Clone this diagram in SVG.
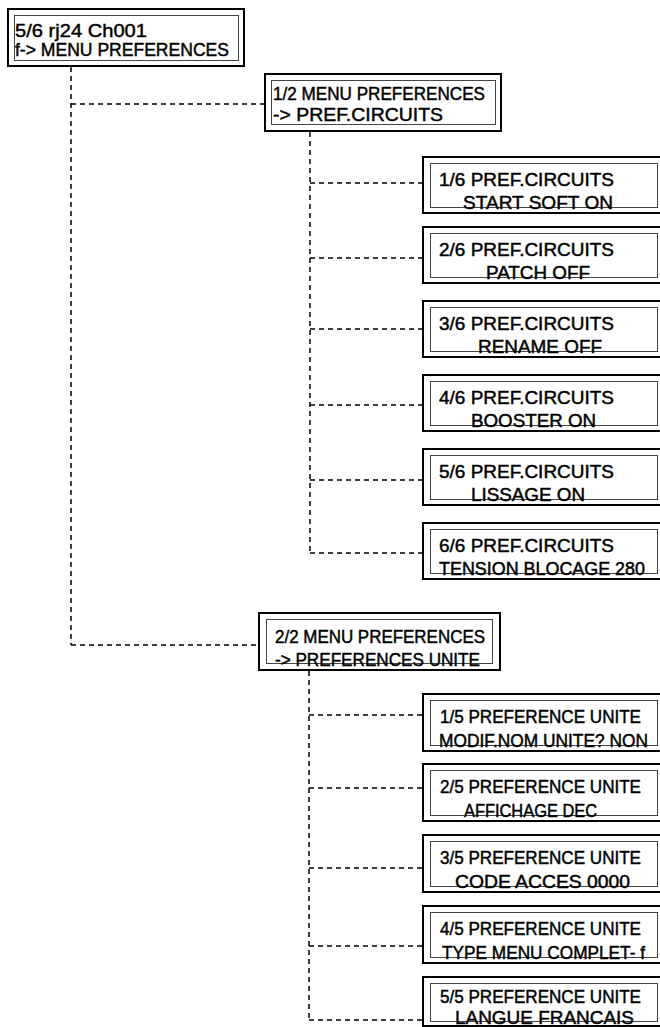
<svg xmlns="http://www.w3.org/2000/svg" width="660" height="1027" viewBox="0 0 660 1027">
<style>
.outer{fill:#fff;stroke:#000;stroke-width:2}
.inner{fill:none;stroke:#444;stroke-width:1}
.t{font-family:"Liberation Sans",Arial,sans-serif;font-size:18px;fill:#000;stroke:#000;stroke-width:0.45}
.big{font-size:19px}
.con{fill:none;stroke:#000;stroke-width:1.5;stroke-dasharray:5 4}
</style>
<rect width="660" height="1027" fill="#fff"/>
<g id="connectors">
<path class="con" d="M71,67 V645 M71,104 H265 M71,645 H259"/>
<path class="con" d="M310,132 V553 M310,183 H423 M310,258 H423 M310,329 H423 M310,405 H423 M310,480 H423 M310,553 H423"/>
<path class="con" d="M309,671 V1020 M309,715 H423 M309,788 H423 M309,868 H423 M309,946 H423 M309,1020 H423"/>
</g>
<g id="n_root">
<rect class="outer" x="8" y="9" width="236" height="57"/>
<rect class="inner" x="14.5" y="15.5" width="224" height="45"/>
<text class="t big" x="15" y="37" textLength="132" lengthAdjust="spacingAndGlyphs">5/6 rj24 Ch001</text>
<text class="t big" x="15" y="56" textLength="214" lengthAdjust="spacingAndGlyphs">f-&gt; MENU PREFERENCES</text>
</g>
<g id="n_menu1">
<rect class="outer" x="265" y="74" width="236" height="57"/>
<rect class="inner" x="271.5" y="80.5" width="224" height="44"/>
<text class="t big" x="273" y="100" textLength="212" lengthAdjust="spacingAndGlyphs">1/2 MENU PREFERENCES</text>
<text class="t big" x="273" y="121" textLength="170" lengthAdjust="spacingAndGlyphs">-&gt; PREF.CIRCUITS</text>
</g>
<g id="n_pc1">
<rect class="outer" x="423" y="157" width="240" height="56"/>
<rect class="inner" x="430.5" y="163.5" width="227" height="44"/>
<text class="t" x="439" y="186" textLength="175" lengthAdjust="spacingAndGlyphs">1/6 PREF.CIRCUITS</text>
<text class="t" x="463" y="209" textLength="150" lengthAdjust="spacingAndGlyphs">START SOFT ON</text>
</g>
<g id="n_pc2">
<rect class="outer" x="423" y="227" width="240" height="56"/>
<rect class="inner" x="430.5" y="233.5" width="227" height="44"/>
<text class="t" x="439" y="256" textLength="175" lengthAdjust="spacingAndGlyphs">2/6 PREF.CIRCUITS</text>
<text class="t" x="486" y="279" textLength="104" lengthAdjust="spacingAndGlyphs">PATCH OFF</text>
</g>
<g id="n_pc3">
<rect class="outer" x="423" y="301" width="240" height="56"/>
<rect class="inner" x="430.5" y="307.5" width="227" height="44"/>
<text class="t" x="439" y="330" textLength="175" lengthAdjust="spacingAndGlyphs">3/6 PREF.CIRCUITS</text>
<text class="t" x="478" y="353" textLength="124" lengthAdjust="spacingAndGlyphs">RENAME OFF</text>
</g>
<g id="n_pc4">
<rect class="outer" x="423" y="375" width="240" height="56"/>
<rect class="inner" x="430.5" y="381.5" width="227" height="44"/>
<text class="t" x="439" y="404" textLength="175" lengthAdjust="spacingAndGlyphs">4/6 PREF.CIRCUITS</text>
<text class="t" x="471" y="427" textLength="125" lengthAdjust="spacingAndGlyphs">BOOSTER ON</text>
</g>
<g id="n_pc5">
<rect class="outer" x="423" y="449" width="240" height="56"/>
<rect class="inner" x="430.5" y="455.5" width="227" height="44"/>
<text class="t" x="439" y="478" textLength="175" lengthAdjust="spacingAndGlyphs">5/6 PREF.CIRCUITS</text>
<text class="t" x="471" y="501" textLength="114" lengthAdjust="spacingAndGlyphs">LISSAGE ON</text>
</g>
<g id="n_pc6">
<rect class="outer" x="423" y="523" width="240" height="56"/>
<rect class="inner" x="430.5" y="529.5" width="227" height="44"/>
<text class="t" x="439" y="552" textLength="175" lengthAdjust="spacingAndGlyphs">6/6 PREF.CIRCUITS</text>
<text class="t" x="439" y="575" textLength="206" lengthAdjust="spacingAndGlyphs">TENSION BLOCAGE 280</text>
</g>
<g id="n_menu2">
<rect class="outer" x="259" y="613" width="241" height="57"/>
<rect class="inner" x="266.5" y="619.5" width="226" height="44"/>
<text class="t" x="275" y="643" textLength="210" lengthAdjust="spacingAndGlyphs">2/2 MENU PREFERENCES</text>
<text class="t" x="275" y="666" textLength="205" lengthAdjust="spacingAndGlyphs">-&gt; PREFERENCES UNITE</text>
</g>
<g id="n_pu1">
<rect class="outer" x="423" y="694" width="240" height="57"/>
<rect class="inner" x="430.5" y="700.5" width="227" height="45"/>
<text class="t" x="440" y="723" textLength="201" lengthAdjust="spacingAndGlyphs">1/5 PREFERENCE UNITE</text>
<text class="t" x="439" y="747" textLength="209" lengthAdjust="spacingAndGlyphs">MODIF.NOM UNITE? NON</text>
</g>
<g id="n_pu2">
<rect class="outer" x="423" y="764" width="240" height="57"/>
<rect class="inner" x="430.5" y="770.5" width="227" height="45"/>
<text class="t" x="440" y="793" textLength="201" lengthAdjust="spacingAndGlyphs">2/5 PREFERENCE UNITE</text>
<text class="t" x="464" y="817" textLength="133" lengthAdjust="spacingAndGlyphs">AFFICHAGE DEC</text>
</g>
<g id="n_pu3">
<rect class="outer" x="423" y="835" width="240" height="57"/>
<rect class="inner" x="430.5" y="841.5" width="227" height="45"/>
<text class="t" x="440" y="864" textLength="201" lengthAdjust="spacingAndGlyphs">3/5 PREFERENCE UNITE</text>
<text class="t" x="455" y="888" textLength="175" lengthAdjust="spacingAndGlyphs">CODE ACCES 0000</text>
</g>
<g id="n_pu4">
<rect class="outer" x="423" y="906" width="240" height="57"/>
<rect class="inner" x="430.5" y="912.5" width="227" height="45"/>
<text class="t" x="440" y="935" textLength="201" lengthAdjust="spacingAndGlyphs">4/5 PREFERENCE UNITE</text>
<text class="t" x="442" y="959" textLength="203" lengthAdjust="spacingAndGlyphs">TYPE MENU COMPLET- f</text>
</g>
<g id="n_pu5">
<rect class="outer" x="423" y="977" width="240" height="49"/>
<rect class="inner" x="430.5" y="983.5" width="227" height="38"/>
<text class="t" x="440" y="1003" textLength="201" lengthAdjust="spacingAndGlyphs">5/5 PREFERENCE UNITE</text>
<text class="t" x="455" y="1024" textLength="179" lengthAdjust="spacingAndGlyphs">LANGUE FRANCAIS</text>
</g>
</svg>
